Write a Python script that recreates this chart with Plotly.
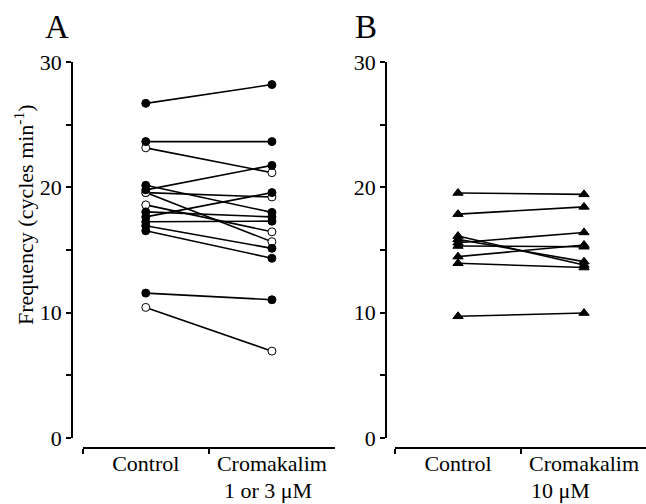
import plotly.graph_objects as go

# ---------------- data ----------------
categories = ["Control", "Cromakalim"]

# Panel A (cromakalim 1 or 3 uM): filled circles
a_filled_control = [26.7, 23.65, 20.16, 19.8, 17.64, 18.04, 17.25, 16.93, 16.53, 11.56]
a_filled_cromakalim = [28.2, 23.65, 18.0, 21.75, 19.58, 17.64, 17.3, 15.13, 14.34, 11.03]
# Panel A: open circles
a_open_control = [23.15, 19.58, 19.58, 18.6, 10.42]
a_open_cromakalim = [21.17, 19.23, 15.66, 16.45, 6.93]

# Panel B (cromakalim 10 uM): filled triangles
b_control = [19.55, 17.86, 16.11, 15.85, 15.58, 15.32, 14.47, 13.94, 9.71]
b_cromakalim = [19.44, 18.44, 13.8, 14.07, 16.4, 15.26, 15.4, 13.6, 9.97]

y_ticks = [0, 10, 20, 30]
sub_labels = ["1 or 3 \u03bcM", "10 \u03bcM"]
panel_labels = ["A", "B"]

# ---------------- figure ----------------
W, H = 646, 504
FONT = "Liberation Serif, Times New Roman, serif"
FS = 22

fig = go.Figure()


def px_x(p):
    return p / W


def px_y(p):
    return 1 - p / H


def add_pairs(ctrl, crom, xa, ya, symbol, fill, size):
    for c, k in zip(ctrl, crom):
        fig.add_trace(go.Scatter(
            x=categories, y=[c, k], xaxis=xa, yaxis=ya, mode="lines+markers",
            line=dict(color="black", width=1.6),
            marker=dict(symbol=symbol, size=size, color=fill,
                        line=dict(color="black", width=1)),
            showlegend=False, hoverinfo="skip"))


add_pairs(a_open_control, a_open_cromakalim, "x", "y", "circle", "white", 8)
add_pairs(a_filled_control, a_filled_cromakalim, "x", "y", "circle", "black", 8)
add_pairs(b_control, b_cromakalim, "x2", "y2", "triangle-up", "black", 9)

y_dom = [px_y(438), px_y(62)]
x_pos = px_y(448)

xcommon = dict(type="category", anchor="free", position=x_pos, showline=True,
               linecolor="black", linewidth=2, ticks="outside", tickson="boundaries",
               ticklen=5, tickwidth=1.5, tickcolor="black", showgrid=False,
               zeroline=False, tickfont=dict(family=FONT, size=FS, color="black"),
               categoryorder="array", categoryarray=categories, fixedrange=True,
               automargin=False, ticklabelstandoff=-4)
ycommon = dict(range=[0, 30], domain=y_dom, anchor="free", showline=True,
               linecolor="black", linewidth=1.5, ticks="outside", ticklen=5,
               tickwidth=1.5, tickcolor="black", tickvals=y_ticks,
               minor=dict(dtick=5, tick0=0, ticks="outside", ticklen=5,
                          tickwidth=1.5, tickcolor="black", showgrid=False),
               showgrid=False, zeroline=False, fixedrange=True, automargin=False,
               tickfont=dict(family=FONT, size=FS, color="black"))

fig.update_layout(
    template="none",
    width=W, height=H, autosize=False,
    margin=dict(l=0, r=0, t=0, b=0, pad=0),
    paper_bgcolor="white", plot_bgcolor="white",
    font=dict(family=FONT, color="black"),
    xaxis=dict(domain=[px_x(82.7), px_x(335)], range=[-0.5, 1.5], **xcommon),
    yaxis=dict(position=px_x(72), **ycommon),
    xaxis2=dict(domain=[px_x(395), 1.0], range=[-0.5, 1.492], **xcommon),
    yaxis2=dict(position=px_x(386), **ycommon),
)

annotations = [
    dict(text=panel_labels[0], x=px_x(56.5), y=px_y(27), xref="paper", yref="paper",
         xanchor="center", yanchor="middle", showarrow=False,
         font=dict(family=FONT, size=33, color="black")),
    dict(text=panel_labels[1], x=px_x(365.5), y=px_y(27), xref="paper", yref="paper",
         xanchor="center", yanchor="middle", showarrow=False,
         font=dict(family=FONT, size=33, color="black")),
    dict(text="Frequency (cycles min<sup>-1</sup>)", x=px_x(24), y=px_y(215),
         xref="paper", yref="paper", textangle=-90, showarrow=False,
         xanchor="center", yanchor="middle",
         font=dict(family=FONT, size=FS, color="black")),
    dict(text=sub_labels[0], x=px_x(267.5), xref="paper",
         y=px_y(490), yref="paper", xanchor="center", yanchor="middle", showarrow=False,
         font=dict(family=FONT, size=FS, color="black")),
    dict(text=sub_labels[1], x=px_x(560), xref="paper",
         y=px_y(490), yref="paper", xanchor="center", yanchor="middle", showarrow=False,
         font=dict(family=FONT, size=FS, color="black")),
]
fig.update_layout(annotations=annotations)

fig.write_html(
    "out.html",
    config={"responsive": False, "displayModeBar": False},
    default_width="646px", default_height="504px",
    post_script="document.body.style.margin='0px';document.body.style.overflow='hidden';",
)
